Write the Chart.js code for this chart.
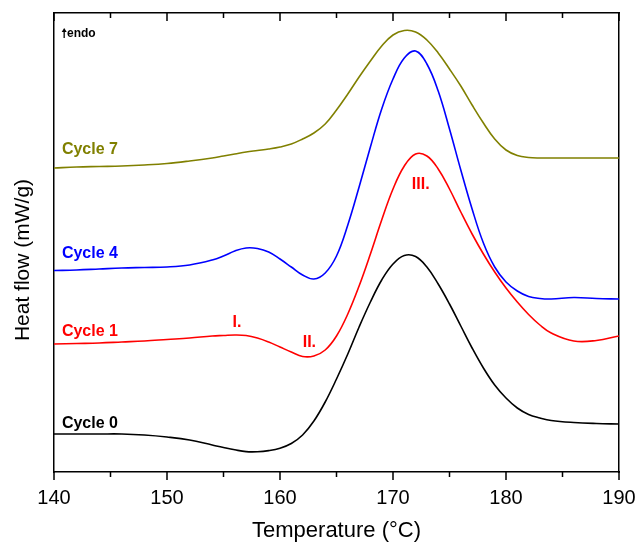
<!DOCTYPE html>
<html>
<head>
<meta charset="utf-8">
<script src="https://cdn.jsdelivr.net/npm/chart.js@4.4.1/dist/chart.umd.min.js"></script>
<style>
  html, body { margin: 0; padding: 0; background: #fff; }
</style>
</head>
<body>
<canvas id="dsc" width="636" height="544"></canvas>
<script>
// Temperatura (°C), común para todas las curvas
var temps = [140, 142, 144, 146, 148, 150, 152, 154, 155, 156, 157, 158, 159, 160, 161, 162, 163, 164, 165,
  166, 167, 168, 169, 170, 171, 172, 173, 174, 175, 176, 177, 178, 179, 180, 181, 182, 183, 184, 186, 188, 190];

// Flujo de calor (unidades arbitrarias, curvas desplazadas)
var cycle0 = [0.38, 0.38, 0.38, 0.38, 0.37, 0.35, 0.32, 0.27, 0.245, 0.222, 0.204, 0.203, 0.214, 0.238, 0.285, 0.37, 0.51, 0.70, 0.93,
  1.18, 1.45, 1.70, 1.92, 2.08, 2.165, 2.155, 2.05, 1.88, 1.68, 1.46, 1.24, 1.04, 0.87, 0.74, 0.64, 0.575, 0.54, 0.515, 0.495, 0.485, 0.48];
var cycle1 = [1.28, 1.285, 1.29, 1.30, 1.31, 1.325, 1.34, 1.36, 1.365, 1.37, 1.365, 1.34, 1.30, 1.25, 1.20, 1.155, 1.16, 1.22, 1.36,
  1.58, 1.86, 2.18, 2.52, 2.83, 3.06, 3.18, 3.16, 3.03, 2.83, 2.60, 2.38, 2.18, 2.00, 1.84, 1.70, 1.575, 1.47, 1.39, 1.31, 1.315, 1.36];
var cycle4 = [2.015, 2.02, 2.03, 2.04, 2.045, 2.05, 2.07, 2.12, 2.16, 2.21, 2.24, 2.235, 2.20, 2.13, 2.05, 1.97, 1.93, 1.99, 2.16,
  2.47, 2.85, 3.25, 3.63, 3.93, 4.14, 4.21, 4.08, 3.81, 3.43, 3.02, 2.63, 2.29, 2.05, 1.90, 1.81, 1.755, 1.735, 1.73, 1.745, 1.735, 1.73];
var cycle7 = [3.04, 3.05, 3.055, 3.06, 3.07, 3.085, 3.11, 3.14, 3.16, 3.18, 3.20, 3.215, 3.23, 3.25, 3.28, 3.33, 3.39, 3.48, 3.62,
  3.78, 3.95, 4.11, 4.26, 4.37, 4.415, 4.40, 4.32, 4.19, 4.03, 3.86, 3.67, 3.49, 3.33, 3.22, 3.165, 3.145, 3.14, 3.14, 3.14, 3.14, 3.14];

// Etiquetas de texto dentro del gráfico
var labelText = ["Cycle 7", "Cycle 4", "Cycle 1", "Cycle 0", "I.", "II.", "III."];
var labelX = [140.7, 140.7, 140.7, 140.7, 156.2, 162.6, 172.45];
var labelY = [3.18, 2.14, 1.36, 0.44, 1.45, 1.25, 2.83];
var labelColor = ["#808000", "#0000ff", "#ff0000", "#000000", "#ff0000", "#ff0000", "#ff0000"];

// Marcas del eje x
var xMin = 140, xMax = 190, majorStep = 10, minorStep = 5;

Chart.defaults.font.family = "'Liberation Sans', Arial, sans-serif";
Chart.defaults.color = "#000";

function toPoints(values) {
  return temps.map(function (t, i) { return { x: t, y: values[i] }; });
}

function curve(values, color) {
  return {
    data: toPoints(values),
    borderColor: color,
    borderWidth: 1.6,
    pointRadius: 0,
    fill: false,
    tension: 0.4,
  };
}

// Dibuja marcas menores, textos, flecha "endo" y título del eje y
var extras = {
  id: "extras",
  afterDraw: function (chart) {
    var ctx = chart.ctx;
    var xs = chart.scales.x;
    var ys = chart.scales.y;
    var area = chart.chartArea;
    ctx.save();

    // marcas: hacia fuera abajo, hacia dentro arriba
    ctx.strokeStyle = "#000";
    ctx.lineWidth = 1.5;
    for (var t = xMin; t <= xMax; t += minorStep) {
      var px = xs.getPixelForValue(t);
      var len = t % majorStep === 0 ? 8 : 5;
      ctx.beginPath();
      ctx.moveTo(px, area.bottom);
      ctx.lineTo(px, area.bottom + len);
      ctx.moveTo(px, area.top);
      ctx.lineTo(px, area.top + len);
      ctx.stroke();
    }

    // etiquetas de curvas
    ctx.font = "bold 16px 'Liberation Sans', Arial, sans-serif";
    ctx.textBaseline = "alphabetic";
    labelText.forEach(function (txt, i) {
      ctx.fillStyle = labelColor[i];
      ctx.textAlign = i < 4 ? "left" : "center";
      ctx.fillText(txt, xs.getPixelForValue(labelX[i]), ys.getPixelForValue(labelY[i]));
    });

    // flecha endo
    var ax = xs.getPixelForValue(140.9);
    var ay0 = ys.getPixelForValue(4.44);
    var ay1 = ys.getPixelForValue(4.34);
    ctx.fillStyle = "#000";
    ctx.lineWidth = 1.3;
    ctx.beginPath();
    ctx.moveTo(ax, ay0 + 3);
    ctx.lineTo(ax, ay1);
    ctx.stroke();
    ctx.beginPath();
    ctx.moveTo(ax, ay0);
    ctx.lineTo(ax - 2.5, ay0 + 4);
    ctx.lineTo(ax + 2.5, ay0 + 4);
    ctx.closePath();
    ctx.fill();
    ctx.font = "bold 12px 'Liberation Sans', Arial, sans-serif";
    ctx.textAlign = "left";
    ctx.fillText("endo", xs.getPixelForValue(141.15), ys.getPixelForValue(4.35));

    // título eje y
    ctx.translate(area.left - 31, ys.getPixelForValue(2.12));
    ctx.rotate(-Math.PI / 2);
    ctx.font = "21px 'Liberation Sans', Arial, sans-serif";
    ctx.textAlign = "center";
    ctx.textBaseline = "middle";
    ctx.fillText("Heat flow (mW/g)", 0, 0);
    ctx.restore();
  },
};

var ctx = document.getElementById("dsc").getContext("2d");
var dscChart = new Chart(ctx, {
  type: "line",
  data: {
    datasets: [
      curve(cycle0, "#000000"),
      curve(cycle1, "#ff0000"),
      curve(cycle4, "#0000ff"),
      curve(cycle7, "#808000"),
    ],
  },
  options: {
    responsive: false,
    animation: false,
    layout: { padding: { top: 13, right: 0, left: 0, bottom: 0 } },
    scales: {
      x: {
        type: "linear",
        position: "bottom",
        min: xMin,
        max: xMax,
        afterFit: function (scale) { scale.height = 72; scale.paddingRight = 17; },
        grid: { display: false, drawTicks: false },
        border: { display: true, color: "#000", width: 1.5 },
        ticks: {
          stepSize: majorStep,
          font: { size: 20 },
          color: "#000",
          padding: 14,
          maxRotation: 0,
        },
        title: {
          display: true,
          text: "Temperature (°C)",
          font: { size: 22 },
          color: "#000",
          padding: { top: 6, bottom: 0 },
        },
      },
      xTop: {
        type: "linear",
        position: "top",
        min: xMin,
        max: xMax,
        afterFit: function (scale) { scale.height = 0; },
        grid: { display: false, drawTicks: false },
        border: { display: true, color: "#000", width: 1.5 },
        ticks: { display: false },
      },
      y: {
        type: "linear",
        position: "left",
        min: 0,
        max: 4.59,
        afterFit: function (scale) { scale.width = 54; },
        grid: { display: false, drawTicks: false },
        border: { display: true, color: "#000", width: 1.5 },
        ticks: { display: false },
      },
      yRight: {
        type: "linear",
        position: "right",
        min: 0,
        max: 4.59,
        afterFit: function (scale) { scale.width = 0; },
        grid: { display: false, drawTicks: false },
        border: { display: true, color: "#000", width: 1.5 },
        ticks: { display: false },
      },
    },
    plugins: {
      legend: { display: false },
      tooltip: { enabled: false },
    },
  },
  plugins: [extras],
});
</script>
</body>
</html>
